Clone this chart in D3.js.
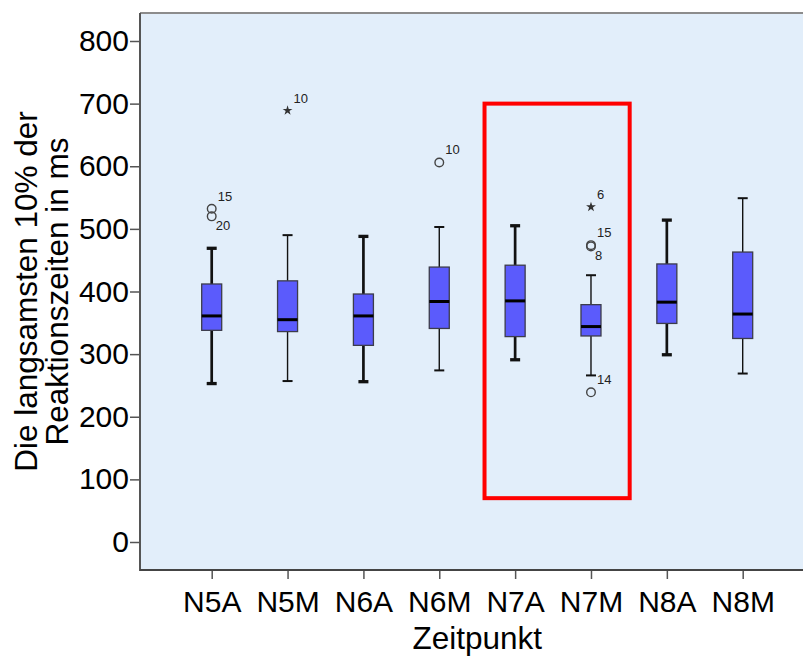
<!DOCTYPE html>
<html>
<head>
<meta charset="utf-8">
<script src="https://cdn.jsdelivr.net/npm/d3@7/dist/d3.min.js"></script>
<style>
  html, body { margin: 0; padding: 0; background: #fff; }
  svg { display: block; font-family: Arial, "Liberation Sans", sans-serif; }
</style>
</head>
<body>
<svg id="chart" width="803" height="657"></svg>
<script>
// Zeitpunkte (categories)
const categories = ["N5A", "N5M", "N6A", "N6M", "N7A", "N7M", "N8A", "N8M"];

// Box plot statistics per Zeitpunkt (ms)
const whiskerLow  = [253, 257, 256, 274, 291, 266, 299, 269];
const q1          = [338, 336, 314, 341, 328, 329, 349, 325];
const median      = [361, 355, 361, 384, 385, 344, 383, 364];
const q3          = [412, 417, 396, 439, 442, 379, 444, 463];
const whiskerHigh = [469, 490, 488, 503, 505, 426, 514, 549];

// Outliers: category, value, case number, extreme (star) or not (circle)
const outCategory = ["N5A", "N5A", "N5M", "N6M", "N7M", "N7M", "N7M", "N7M"];
const outValue    = [532, 520, 689, 606, 535, 474, 472, 239];
const outCase     = ["15", "20", "10", "10", "6", "15", "8", "14"];
const outExtreme  = [false, false, true, false, true, false, false, false];

// Y axis ticks
const yTicks = [0, 100, 200, 300, 400, 500, 600, 700, 800];

// Highlighted range (Zeitpunkt N7)
const highlightFrom = "N7A", highlightTo = "N7M";
const highlightTop = 700, highlightBottom = 70;

const svg = d3.select("#chart");

const panel = { left: 140, right: 803, top: 13, bottom: 570 };

const y = d3.scaleLinear().domain([0, 800]).range([542, 41]);
const x = d3.scalePoint().domain(categories).range([211.7, 742.7]);

// Plot background
svg.append("rect")
  .attr("x", panel.left).attr("y", panel.top)
  .attr("width", panel.right - panel.left + 2)
  .attr("height", panel.bottom - panel.top)
  .attr("fill", "#E2EEFA");

svg.append("line")
  .attr("x1", panel.left).attr("x2", panel.right + 2)
  .attr("y1", panel.top).attr("y2", panel.top)
  .attr("stroke", "#8c8c8c").attr("stroke-width", 2);

// Y axis
const yAxis = svg.append("g")
  .attr("transform", `translate(${panel.left},0)`)
  .call(d3.axisLeft(y).tickValues(yTicks).tickSize(10).tickPadding(1).tickFormat(d3.format("d")));
yAxis.select(".domain").remove();
yAxis.selectAll(".tick line").attr("stroke", "#555").attr("stroke-width", 1.5);
yAxis.selectAll(".tick text")
  .attr("font-size", 30).attr("fill", "#000")
  .attr("font-family", "Arial, 'Liberation Sans', sans-serif");

// X axis
const xAxis = svg.append("g")
  .attr("transform", `translate(0,${panel.bottom})`)
  .call(d3.axisBottom(x).tickSize(9).tickPadding(12));
xAxis.select(".domain").remove();
xAxis.selectAll(".tick line").attr("stroke", "#555").attr("stroke-width", 1.5);
xAxis.selectAll(".tick text")
  .attr("font-size", 30).attr("fill", "#000")
  .attr("font-family", "Arial, 'Liberation Sans', sans-serif");

// Axis lines
svg.append("line")
  .attr("x1", panel.left).attr("x2", panel.left)
  .attr("y1", panel.top).attr("y2", panel.bottom + 1)
  .attr("stroke", "#555").attr("stroke-width", 2);
svg.append("line")
  .attr("x1", panel.left).attr("x2", panel.right + 2)
  .attr("y1", panel.bottom).attr("y2", panel.bottom)
  .attr("stroke", "#444").attr("stroke-width", 2);

// Axis titles
svg.append("text")
  .attr("x", d3.mean(x.range())).attr("y", 649)
  .attr("text-anchor", "middle")
  .attr("font-size", 31.5).attr("fill", "#000")
  .text("Zeitpunkt");

const yTitle = svg.append("text")
  .attr("transform", `translate(37,${y(400)}) rotate(-90)`)
  .attr("text-anchor", "middle")
  .attr("font-size", 31.5).attr("fill", "#000");
yTitle.append("tspan").attr("x", 0).attr("y", 0).text("Die langsamsten 10% der");
yTitle.append("tspan").attr("x", 0).attr("y", 31).text("Reaktionszeiten in ms");

// Boxes
const boxW = 20, capW = 10;
const boxes = categories.map((c, i) => ({
  cat: c, lo: whiskerLow[i], q1: q1[i], med: median[i], q3: q3[i], hi: whiskerHigh[i]
}));

const g = svg.append("g");
boxes.forEach(b => {
  const cx = x(b.cat);
  const sw = b.cat.endsWith("A") ? 2.7 : 1.4;
  const grp = g.append("g");
  // whiskers
  grp.append("line").attr("x1", cx).attr("x2", cx).attr("y1", y(b.q3)).attr("y2", y(b.hi))
    .attr("stroke", "#111").attr("stroke-width", sw);
  grp.append("line").attr("x1", cx).attr("x2", cx).attr("y1", y(b.q1)).attr("y2", y(b.lo))
    .attr("stroke", "#111").attr("stroke-width", sw);
  grp.append("line").attr("x1", cx - capW / 2).attr("x2", cx + capW / 2).attr("y1", y(b.hi)).attr("y2", y(b.hi))
    .attr("stroke", "#111").attr("stroke-width", sw + 0.6);
  grp.append("line").attr("x1", cx - capW / 2).attr("x2", cx + capW / 2).attr("y1", y(b.lo)).attr("y2", y(b.lo))
    .attr("stroke", "#111").attr("stroke-width", sw + 0.6);
  // box
  grp.append("rect")
    .attr("x", cx - boxW / 2).attr("width", boxW)
    .attr("y", y(b.q3)).attr("height", y(b.q1) - y(b.q3))
    .attr("fill", "#5B5BFC").attr("stroke", "#3c3c4a").attr("stroke-width", 1.3);
  // median
  grp.append("line").attr("x1", cx - boxW / 2).attr("x2", cx + boxW / 2)
    .attr("y1", y(b.med)).attr("y2", y(b.med))
    .attr("stroke", "#000").attr("stroke-width", 3);
});

// Outliers
const outliers = outValue.map((v, i) => ({
  cat: outCategory[i], value: v, label: outCase[i], extreme: outExtreme[i]
}));

// Labels go above-right; a point sitting just below another in the same
// category gets its label below-right so the two do not collide.
outliers.forEach(o => {
  const above = outliers.find(p => p !== o && p.cat === o.cat && p.value > o.value &&
    Math.abs(y(p.value) - y(o.value)) < 14);
  o.below = !!above;
});

const og = svg.append("g");
outliers.forEach(o => {
  const cx = x(o.cat), cy = y(o.value);
  if (o.extreme) {
    og.append("path")
      .attr("d", d3.symbol(d3.symbolStar, 30)())
      .attr("transform", `translate(${cx},${cy})`)
      .attr("fill", "#333");
  } else {
    og.append("circle")
      .attr("cx", cx).attr("cy", cy).attr("r", 4.3)
      .attr("fill", "none").attr("stroke", "#444").attr("stroke-width", 1.4);
  }
  og.append("text")
    .attr("x", cx + (o.below ? 4 : 6))
    .attr("y", o.below ? cy + 14 : cy - 8)
    .attr("font-size", 13).attr("fill", "#222")
    .text(o.label);
});

// Highlight frame around Zeitpunkt N7
svg.append("rect")
  .attr("x", x(highlightFrom) - 30.6)
  .attr("y", y(highlightTop))
  .attr("width", (x(highlightTo) + 38.7) - (x(highlightFrom) - 30.6))
  .attr("height", y(highlightBottom) - y(highlightTop))
  .attr("fill", "none").attr("stroke", "#FF0000").attr("stroke-width", 4);
</script>
</body>
</html>
